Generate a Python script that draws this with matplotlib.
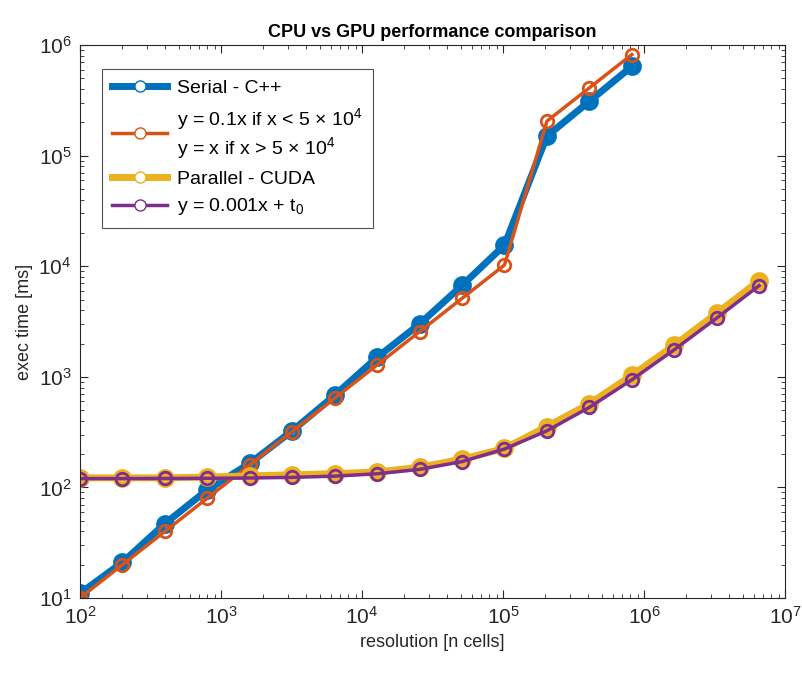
import numpy as np
import matplotlib.pyplot as plt

plt.rcParams['font.family'] = ['Liberation Sans', 'DejaVu Sans']
plt.rcParams['mathtext.fontset'] = 'custom'
plt.rcParams['mathtext.rm'] = 'Liberation Sans'
plt.rcParams['mathtext.it'] = 'Liberation Sans'

# data
n_cpu = [100, 200, 400, 800, 1600, 3200, 6400, 12800, 25600, 51200,
         102400, 204800, 409600, 819200]
t_serial = [11, 21, 47, 95, 165, 325, 680, 1500, 3000, 6700,
            15500, 150000, 310000, 640000]
t_serial_fit = [10, 20, 40, 80, 160, 320, 640, 1280, 2560, 5120,
                10240, 204800, 409600, 819200]

n_gpu = [100, 200, 400, 800, 1600, 3200, 6400, 12800, 25600, 51200,
         102400, 204800, 409600, 819200, 1638400, 3276800, 6553600]
t_cuda = [122, 122, 122, 124, 127, 130, 133, 138, 152, 180,
          225, 355, 570, 1030, 1930, 3750, 7400]
t_cuda_fit = [120.1, 120.2, 120.4, 120.8, 121.6, 123.2, 126.4, 132.8, 145.6, 171.2,
              222.4, 324.8, 529.6, 939.2, 1758, 3397, 6674]

blue = '#0072BD'
red = '#D95319'
yellow = '#EDB120'
purple = '#7E2F8E'

fig = plt.figure(figsize=(8.03, 6.78), dpi=100)
ax = fig.add_axes([0.0996, 0.118, 0.878, 0.8156])

ax.plot(n_cpu, t_serial, '-o', color=blue, lw=5, ms=9, mew=4.5, mfc='none',
        label='Serial - C++')
ax.plot(n_cpu, t_serial_fit, '-o', color=red, lw=2.5, ms=9, mew=2, mfc='none',
        label='y = 0.1x if x < 5 $\\times$ 10$^4$\ny = x if x > 5 $\\times$ 10$^4$')
ax.plot(n_gpu, t_cuda, '-o', color=yellow, lw=5, ms=9, mew=4.5, mfc='none',
        label='Parallel - CUDA')
ax.plot(n_gpu, t_cuda_fit, '-o', color=purple, lw=2.5, ms=9, mew=2, mfc='none',
        label='y = 0.001x + t$_0$')

ax.set_xscale('log')
ax.set_yscale('log')
ax.set_xlim(1e2, 1e7)
ax.set_ylim(1e1, 1e6)

ax.tick_params(which='both', direction='in', top=True, right=True, colors='#262626')
ax.tick_params(which='major', length=6, labelsize=15, pad=6)
ax.tick_params(which='minor', length=3)
for s in ax.spines.values():
    s.set_color('#262626')
    s.set_linewidth(0.8)

ax.set_xlabel('resolution [n cells]', fontsize=13, color='#262626')
ax.set_ylabel('exec time [ms]', fontsize=13, color='#262626')
ax.set_title('CPU vs GPU performance comparison', fontsize=13, fontweight='bold')

leg = ax.legend(loc='upper left', fontsize=14, frameon=True, fancybox=False,
                edgecolor='#262626', handlelength=2.8, handletextpad=0.5,
                borderpad=0.55, labelspacing=0.45, bbox_to_anchor=(0.017, 0.975))
leg.get_frame().set_linewidth(0.8)
for h in leg.legend_handles:
    h.set_markersize(8)
    h.set_markeredgewidth(1)
    h.set_markerfacecolor('white')

fig.savefig('out.png', dpi=100)
